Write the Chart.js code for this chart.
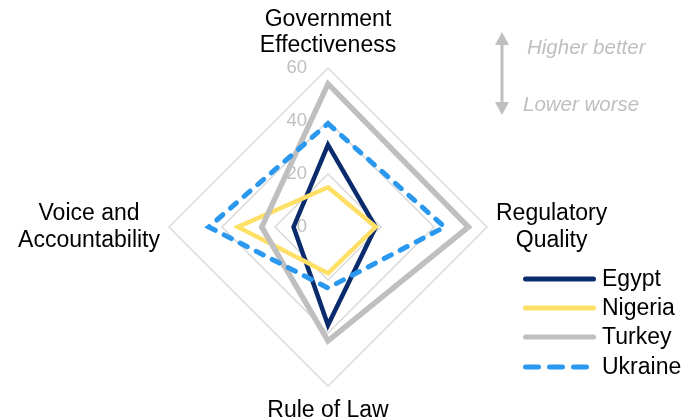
<!DOCTYPE html>
<html><head><meta charset="utf-8">
<script src="https://cdn.jsdelivr.net/npm/chart.js@4/dist/chart.umd.min.js"></script>
<style>
html,body{margin:0;padding:0;background:#fff;}
#wrap{position:relative;width:684px;height:417px;}
canvas{position:absolute;left:0;top:0;}
</style></head><body>
<div id="wrap"><canvas id="c" width="684" height="417"></canvas></div>
<script>
// ---- data ----
const categories = [['Government', 'Effectiveness'], ['Regulatory', 'Quality'], ['Rule of Law'], ['Voice and', 'Accountability']];
const seriesNames = ['Egypt', 'Nigeria', 'Turkey', 'Ukraine'];
const egypt = [31, 18, 37, 13];
const nigeria = [15, 18, 17.5, 34];
const turkey = [54, 53, 43, 25];
const ukraine = [39, 44, 23, 45];
const tickValues = [0, 20, 40, 60];
const noteTexts = ['Higher better', 'Lower worse'];

const FONT = '"Liberation Sans", Arial, sans-serif';
const colors = ['#0B2C6C', '#FFE066', '#BFBFBF', '#2A98EE'];
const widths = [4.5, 4.5, 5.5, 5];

const labelPlugin = {
  id: 'labels',
  beforeDatasetsDraw(chart) {
    const s = chart.scales.r, ctx = chart.ctx;
    ctx.save();
    ctx.font = '18.5px ' + FONT;
    ctx.fillStyle = '#BFBFBF';
    ctx.textAlign = 'right';
    ctx.textBaseline = 'middle';
    tickValues.forEach(v => {
      const d = s.getDistanceFromCenterForValue(v);
      ctx.fillText(String(v), s.xCenter - 21, s.yCenter - d);
    });
    ctx.restore();
  },
  afterDraw(chart) {
    const s = chart.scales.r, ctx = chart.ctx;
    ctx.save();
    // point labels
    ctx.font = '23px ' + FONT;
    ctx.fillStyle = '#000';
    ctx.textAlign = 'center';
    ctx.textBaseline = 'middle';
    const lh = 26.5;
    categories.forEach((lines, i) => {
      const p = s.getPointPosition(i, s.drawingArea + 9);
      const w = Math.max(...lines.map(l => ctx.measureText(l).width));
      const h = lines.length * lh;
      let cx, top;
      if (i === 0) { cx = p.x; top = p.y - h; }
      else if (i === 1) { cx = p.x + w / 2; top = p.y - h / 2; }
      else if (i === 2) { cx = p.x; top = p.y + 2; }
      else { cx = p.x - w / 2; top = p.y - h / 2; }
      lines.forEach((l, k) => ctx.fillText(l, cx, top + lh * k + lh / 2));
    });
    // legend
    const lx0 = 523, lx1 = 596, ly = [279, 308, 337, 367];
    chart.data.datasets.forEach((ds, i) => {
      ctx.beginPath();
      ctx.strokeStyle = ds.borderColor;
      ctx.lineWidth = 5;
      ctx.lineCap = 'round';
      ctx.setLineDash(i === 3 ? [13, 11] : []);
      ctx.moveTo(lx0 + 2.5, ly[i]);
      ctx.lineTo(lx1 - 2.5, ly[i]);
      ctx.stroke();
      ctx.setLineDash([]);
      ctx.fillStyle = '#000';
      ctx.textAlign = 'left';
      ctx.fillText(ds.label, 602, ly[i] + 1);
    });
    // arrow note
    ctx.strokeStyle = '#BFBFBF';
    ctx.fillStyle = '#BFBFBF';
    ctx.lineWidth = 3;
    ctx.lineCap = 'butt';
    ctx.beginPath();
    ctx.moveTo(502, 42); ctx.lineTo(502, 106); ctx.stroke();
    ctx.beginPath();
    ctx.moveTo(502, 32); ctx.lineTo(495, 45); ctx.lineTo(509, 45); ctx.closePath(); ctx.fill();
    ctx.beginPath();
    ctx.moveTo(502, 115); ctx.lineTo(495, 102); ctx.lineTo(509, 102); ctx.closePath(); ctx.fill();
    ctx.font = 'italic 20.5px ' + FONT;
    ctx.textAlign = 'left';
    ctx.fillText(noteTexts[0], 527, 48);
    ctx.fillText(noteTexts[1], 523, 105);
    ctx.restore();
  }
};

const datasets = [egypt, nigeria, turkey, ukraine].map((vals, i) => ({
  label: seriesNames[i],
  data: vals,
  borderColor: colors[i],
  backgroundColor: colors[i],
  borderWidth: widths[i],
  borderDash: i === 3 ? [8, 10] : [],
  borderCapStyle: i === 3 ? 'round' : 'butt',
  borderJoinStyle: 'miter',
  fill: false,
  pointRadius: 0,
  pointHoverRadius: 0,
  tension: 0,
  order: 3 - i
}));

new Chart(document.getElementById('c'), {
  type: 'radar',
  data: { labels: categories.map(l => l.join(' ')), datasets },
  options: {
    responsive: false,
    animation: false,
    devicePixelRatio: 1,
    layout: { padding: { left: 169, right: 197, top: 68, bottom: 31 } },
    plugins: { legend: { display: false }, tooltip: { enabled: false } },
    scales: {
      r: {
        min: 0, max: 60,
        ticks: { stepSize: 20, display: false },
        pointLabels: { display: false },
        angleLines: { display: false },
        grid: { color: '#D9D9D9', lineWidth: 1.5 }
      }
    }
  },
  plugins: [labelPlugin]
});
</script>
</body></html>
